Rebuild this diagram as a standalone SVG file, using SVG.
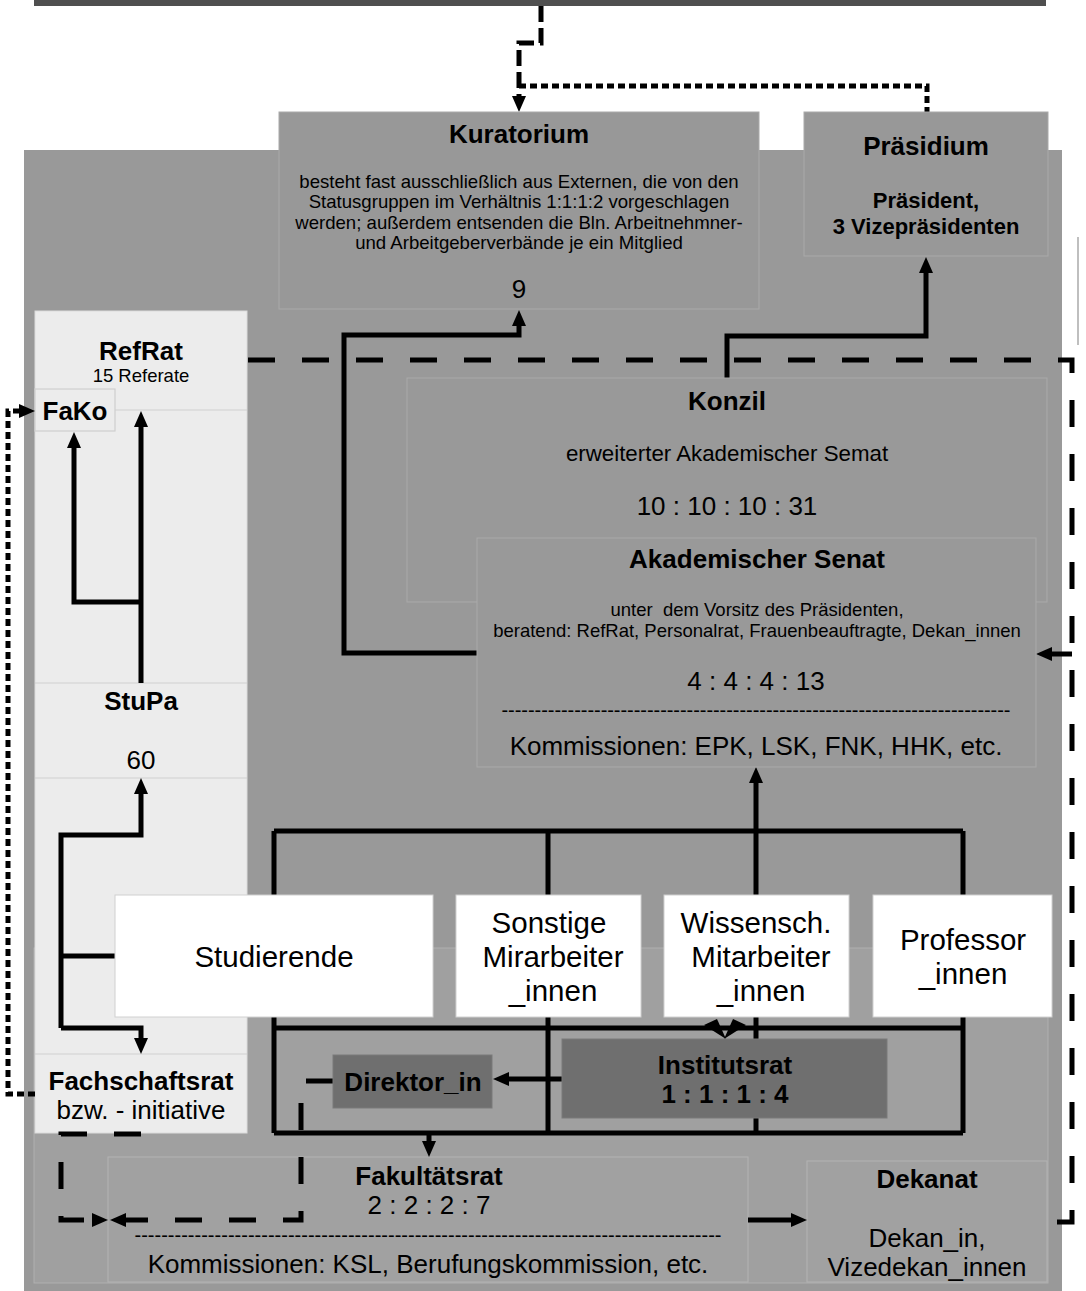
<svg xmlns="http://www.w3.org/2000/svg" width="1086" height="1291" viewBox="0 0 1086 1291">
<defs>
<marker id="ah" markerUnits="userSpaceOnUse" markerWidth="16" markerHeight="14" refX="6" refY="7" orient="auto">
<path d="M0,0 L16,7 L0,14 z" fill="#000"/>
</marker>
<style>
text{font-family:"Liberation Sans",Arial,sans-serif;fill:#000;text-anchor:middle}
.b{font-weight:bold;font-size:26px}
.bs{font-weight:bold;font-size:22px}
.r{font-size:26px}
.s{font-size:18.6px}
.m{font-size:18.5px}
.big{font-size:29.5px}
.box{fill:#989898;stroke:#aaaaaa;stroke-width:1}
.lbox{fill:#a1a1a1;stroke:#b3b3b3;stroke-width:1}
.wbox{fill:#ffffff;stroke:#d0d0d0;stroke-width:1}
.dbox{fill:#6f6f6f;stroke:#7a7a7a;stroke-width:1}
.c{fill:none;stroke:#000;stroke-width:5}
.dash{stroke-dasharray:27,27}
.dot{stroke-dasharray:7,4}
.sep{stroke:#cfcfcf;stroke-width:1.2}
</style>
</defs>
<rect x="0" y="0" width="1086" height="1291" fill="#ffffff"/>
<g id="background">
<rect x="34" y="0" width="1012" height="6" fill="#4f4f4f"/>
<rect x="24" y="150" width="1038" height="1141" fill="#999999"/>
<rect x="34" y="948" width="1014" height="335" fill="#a0a0a0" stroke="#b0b0b0" stroke-width="1"/>
<line x1="1078" y1="237" x2="1078" y2="345" stroke="#aaaaaa" stroke-width="1.5"/>
</g>
<g id="studierendenschaft">
<rect x="35" y="311" width="212" height="822" fill="#ececec" stroke="#dcdcdc" stroke-width="1"/>
<line class="sep" x1="115" y1="410" x2="247" y2="410"/>
<line class="sep" x1="35" y1="683" x2="247" y2="683"/>
<line class="sep" x1="35" y1="778" x2="247" y2="778"/>
<line class="sep" x1="35" y1="1054" x2="247" y2="1054"/>
</g>
<g id="refrat">
<text class="b" x="141" y="360">RefRat</text>
<text class="m" x="141" y="382">15 Referate</text>
</g>
<g id="fako">
<rect x="35" y="389" width="80" height="42" fill="#ececec" stroke="#cfcfcf" stroke-width="1.2"/>
<text class="b" x="75" y="420">FaKo</text>
</g>
<g id="stupa">
<text class="b" x="141" y="710">StuPa</text>
<text class="r" x="141" y="769">60</text>
</g>
<g id="fachschaftsrat">
<text class="b" x="141" y="1090">Fachschaftsrat</text>
<text class="r" x="141" y="1119">bzw. - initiative</text>
</g>
<g id="fakultaetsrat">
<rect class="lbox" x="108" y="1157" width="640" height="125"/>
<text class="b" x="429" y="1185">Fakultätsrat</text>
<text class="r" x="429" y="1214">2 : 2 : 2 : 7</text>
<text x="428" y="1242" style="font-size:20px" textLength="587" lengthAdjust="spacing">----------------------------------------------------------------------------------------</text>
<text class="r" x="428" y="1273">Kommissionen: KSL, Berufungskommission, etc.</text>
</g>
<g id="dekanat">
<rect class="lbox" x="807" y="1161" width="240" height="121"/>
<text class="b" x="927" y="1188">Dekanat</text>
<text class="r" x="927" y="1247">Dekan_in,</text>
<text class="r" x="927" y="1276">Vizedekan_innen</text>
</g>
<g id="connectors">
<path class="c" d="M541,6 V43 H519 V102" style="stroke-dasharray:16,6" marker-end="url(#ah)"/>
<path class="c dot" d="M519,86 H927 V112"/>
<path class="c" d="M477,653 H344 V335 H519 V320" marker-end="url(#ah)"/>
<path class="c" d="M727,378 V336 H926 V267" marker-end="url(#ah)"/>
<path class="c" d="M141,683 V421" marker-end="url(#ah)"/>
<path class="c" d="M141,602 H74 V442" marker-end="url(#ah)"/>
<path class="c dot" d="M35,1094 H8 V411 H25" marker-end="url(#ah)"/>
<path class="c" d="M61,1028 V835 H141 V788" marker-end="url(#ah)"/>
<path class="c" d="M115,956 H61"/>
<path class="c" d="M61,1028 H141 V1044" marker-end="url(#ah)"/>
<path class="c" d="M274,831 H963 M274,831 V1133 M548,831 V1133 M963,831 V1133 M274,1028 H963 M274,1133 H963"/>
<path class="c" d="M756,1133 V777" marker-end="url(#ah)"/>
<polygon points="704,1025 717,1019 726,1039" fill="#000"/>
<polygon points="746,1025 733,1019 724,1039" fill="#000"/>
<path class="c" d="M562,1079 H503" marker-end="url(#ah)"/>
<path class="c" d="M429,1133 V1147" marker-end="url(#ah)"/>
<path class="c" d="M748,1220 H797" marker-end="url(#ah)"/>
<path class="c dash" d="M141,1134 H61 V1220 H98" marker-end="url(#ah)"/>
<path class="c dash" d="M333,1081 H301 V1220 H120" marker-end="url(#ah)"/>
<path class="c dash" d="M248,360 H1072 V1222 H1048"/>
<path class="c" d="M1072,654 H1046" marker-end="url(#ah)"/>
</g>
<g id="kuratorium">
<rect class="box" x="279" y="112" width="480" height="197"/>
<text class="b" x="519" y="143">Kuratorium</text>
<text class="s" x="519" y="187.5">besteht fast ausschließlich aus Externen, die von den</text>
<text class="s" x="519" y="208">Statusgruppen im Verhältnis 1:1:1:2 vorgeschlagen</text>
<text class="s" x="519" y="228.5">werden; außerdem entsenden die Bln. Arbeitnehmner-</text>
<text class="s" x="519" y="249">und Arbeitgeberverbände je ein Mitglied</text>
<text class="r" x="519" y="298">9</text>
</g>
<g id="praesidium">
<rect class="box" x="804" y="112" width="244" height="144"/>
<text class="b" x="926" y="155">Präsidium</text>
<text class="bs" x="926" y="208">Präsident,</text>
<text class="bs" x="926" y="234">3 Vizepräsidenten</text>
</g>
<g id="konzil">
<rect x="407" y="378" width="640" height="224" fill="#999999" stroke="#aaaaaa" stroke-width="1"/>
<text class="b" x="727" y="410">Konzil</text>
<text x="727" y="461" style="font-size:22.3px">erweiterter Akademischer Semat</text>
<text class="r" x="727" y="515">10 : 10 : 10 : 31</text>
</g>
<g id="senat">
<rect x="477" y="538" width="559" height="229" fill="#999999" stroke="#aaaaaa" stroke-width="1"/>
<text class="b" x="757" y="568">Akademischer Senat</text>
<text class="m" x="757" y="615.5" style="white-space:pre">unter  dem Vorsitz des Präsidenten,</text>
<text class="m" x="757" y="636.5">beratend: RefRat, Personalrat, Frauenbeauftragte, Dekan_innen</text>
<text class="r" x="756" y="690">4 : 4 : 4 : 13</text>
<text x="756" y="717" style="font-size:20px" textLength="509" lengthAdjust="spacing">-----------------------------------------------------------------------------</text>
<text class="r" x="756" y="755">Kommissionen: EPK, LSK, FNK, HHK, etc.</text>
</g>
<g id="studierende">
<rect class="wbox" x="115" y="895" width="318" height="122"/>
<text class="big" x="274" y="966.5">Studierende</text>
</g>
<g id="sonstige">
<rect class="wbox" x="456" y="895" width="185" height="122"/>
<text class="big" x="549" y="932.5">Sonstige</text>
<text class="big" x="553" y="966.5">Mirarbeiter</text>
<text class="big" x="553" y="1000.5">_innen</text>
</g>
<g id="wissensch">
<rect class="wbox" x="664" y="895" width="185" height="122"/>
<text class="big" x="756" y="932.5">Wissensch.</text>
<text class="big" x="761" y="966.5">Mitarbeiter</text>
<text class="big" x="761" y="1000.5">_innen</text>
</g>
<g id="professor">
<rect class="wbox" x="873" y="895" width="179" height="122"/>
<text class="big" x="963" y="950">Professor</text>
<text class="big" x="963" y="983.5">_innen</text>
</g>
<g id="institutsrat">
<rect class="dbox" x="562" y="1039" width="325" height="79"/>
<text class="b" x="725" y="1074">Institutsrat</text>
<text class="b" x="725" y="1103">1 : 1 : 1 : 4</text>
</g>
<g id="direktor">
<rect class="dbox" x="333" y="1055" width="159" height="53"/>
<text class="b" x="413" y="1091">Direktor_in</text>
</g>
</svg>
